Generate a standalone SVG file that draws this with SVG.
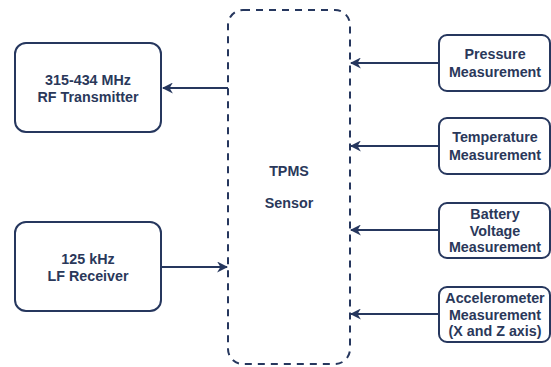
<svg xmlns="http://www.w3.org/2000/svg" width="551" height="367" viewBox="0 0 551 367">
<defs>
<style>
.box{fill:#fff;stroke:#26375e;stroke-width:2}
.t{font-family:"Liberation Sans",Arial,sans-serif;font-weight:bold;font-size:14.3px;fill:#2a385a;text-anchor:middle}
.c{stroke:#26375e;stroke-width:2;fill:none}
</style>
<marker id="ah" viewBox="0 0 10 10" refX="9" refY="5" markerWidth="11" markerHeight="11" markerUnits="userSpaceOnUse" orient="auto">
<path d="M0,0 L10,5 L0,10 L3,5 Z" fill="#26375e"/>
</marker>
</defs>
<rect width="551" height="367" fill="#fff"/>
<g id="sensor">
<rect x="228" y="10" width="122" height="354" rx="15" fill="none" stroke="#26375e" stroke-width="2" stroke-dasharray="7,6"/>
<text class="t" x="289" y="176">TPMS</text>
<text class="t" x="289" y="208">Sensor</text>
</g>
<g id="rf">
<rect class="box" x="15" y="43" width="146" height="89" rx="11"/>
<text class="t" x="88" y="85">315-434 MHz</text>
<text class="t" x="88" y="102">RF Transmitter</text>
</g>
<g id="lf">
<rect class="box" x="15" y="222" width="146" height="89" rx="11"/>
<text class="t" x="88" y="264">125 kHz</text>
<text class="t" x="88" y="281">LF Receiver</text>
</g>
<g id="pressure">
<rect class="box" x="439" y="35" width="111" height="56" rx="8"/>
<text class="t" x="495" y="59">Pressure</text>
<text class="t" x="495" y="77">Measurement</text>
</g>
<g id="temperature">
<rect class="box" x="439" y="118" width="111" height="56" rx="8"/>
<text class="t" x="495" y="142">Temperature</text>
<text class="t" x="495" y="160">Measurement</text>
</g>
<g id="battery">
<rect class="box" x="439" y="203" width="111" height="55" rx="8"/>
<text class="t" x="495" y="219">Battery</text>
<text class="t" x="495" y="236">Voltage</text>
<text class="t" x="495" y="252">Measurement</text>
</g>
<g id="accel">
<rect class="box" x="439" y="287" width="111" height="55" rx="8"/>
<text class="t" x="495" y="303">Accelerometer</text>
<text class="t" x="495" y="320">Measurement</text>
<text class="t" x="495" y="336">(X and Z axis)</text>
</g>
<g id="connectors">
<line class="c" x1="228" y1="88" x2="163" y2="88" marker-end="url(#ah)"/>
<line class="c" x1="161" y1="267" x2="227" y2="267" marker-end="url(#ah)"/>
<line class="c" x1="439" y1="63" x2="351" y2="63" marker-end="url(#ah)"/>
<line class="c" x1="439" y1="146" x2="351" y2="146" marker-end="url(#ah)"/>
<line class="c" x1="439" y1="230" x2="351" y2="230" marker-end="url(#ah)"/>
<line class="c" x1="439" y1="314" x2="351" y2="314" marker-end="url(#ah)"/>
</g>
</svg>
